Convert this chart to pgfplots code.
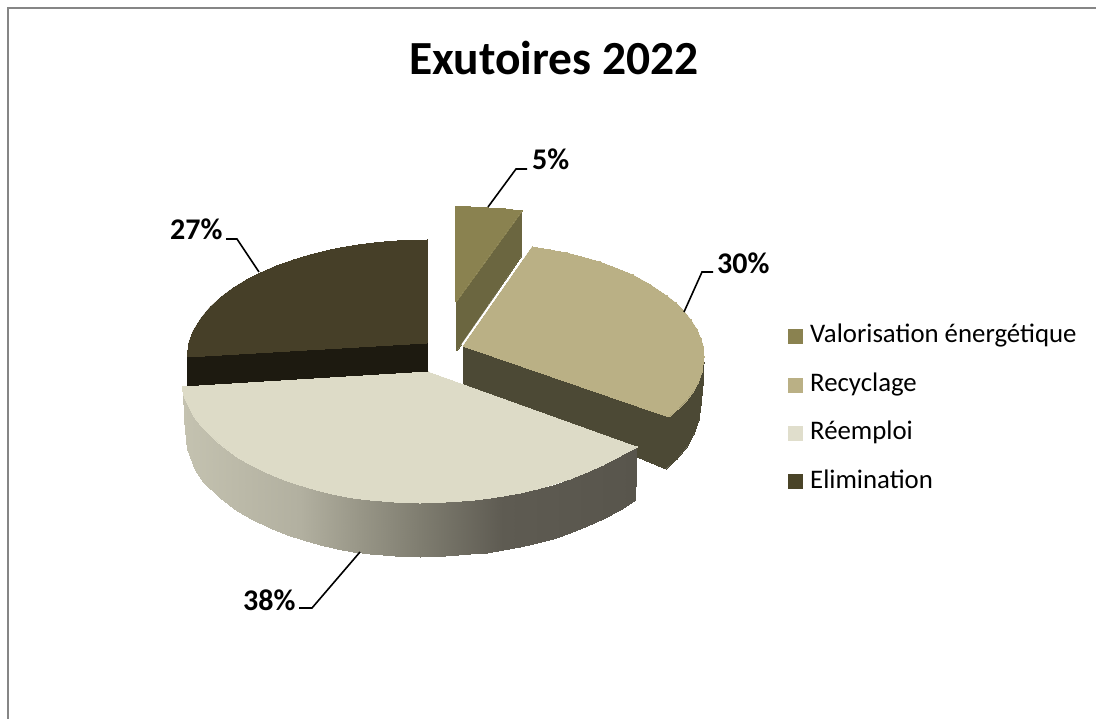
\documentclass[border=0pt]{standalone}
\usepackage{pgfplots}
\pgfplotsset{compat=1.18}
\usepackage{fontspec}
\setmainfont{Carlito}
\definecolor{frameg}{RGB}{134,134,134}
\definecolor{vtop}{RGB}{138,130,80}
\definecolor{vside}{RGB}{107,102,64}
\definecolor{rtop}{RGB}{186,176,133}
\definecolor{rside}{RGB}{76,73,53}
\definecolor{ptop}{RGB}{221,219,199}
\definecolor{etop}{RGB}{70,63,40}
\definecolor{eside}{RGB}{29,26,16}
\definecolor{lp}{RGB}{224,222,204}
\definecolor{le}{RGB}{74,68,40}
\begin{document}
\begin{tikzpicture}
\begin{axis}[
  width=1096pt, height=719pt, scale only axis,
  xmin=0, xmax=1096, ymin=0, ymax=719, y dir=reverse,
  axis lines=none, clip=true,
  colormap={side}{rgb255(0pt)=(196,194,176); rgb255(117pt)=(178,176,160); rgb255(177pt)=(152,150,135); rgb255(237pt)=(127,125,112); rgb255(320pt)=(94,91,82); rgb255(453pt)=(88,85,76)},
  point meta min=183, point meta max=636,
  every axis plot/.append style={line width=0pt},
]
% canvas and frame
\addplot[draw=none, fill=white] coordinates {(0,0)(1096,0)(1096,719)(0,719)} -- cycle;
\addplot[draw=frameg, line width=2pt] coordinates {(7.8,719)(7.8,7.8)(1096,7.8)};

% Valorisation energetique 5 %
\addplot[fill=vside, draw=vside] coordinates {(522,211)(521,257)(457,351)(456,302)} -- cycle;
\addplot[fill=vtop, draw=vtop] coordinates {(455,207)(470,207)(488,208)(505,209)(522,211)(456,302)} -- cycle;

% Elimination 27 %
\addplot[fill=eside, draw=eside] coordinates {(427,343)(427,372)(188,386)(187,357)} -- cycle;
\addplot[fill=etop, draw=etop] coordinates {(427,240)(410,240.3)(393,241.2)(376,242.7)(360,244.6)(343,247.4)(327,250.6)(310,254.8)(293,260)(276,266)(260,273)(246,280)(233,288)(221,297)(210,307)(201,318)(193,331)(189,342)(187,357)(427,343)} -- cycle;

% Recyclage 30 %
\addplot[fill=rside, draw=rside] coordinates {(463,346)(463,384)(666,469)(677,459)(687,447)(694,434)(699,420)(701,405)(703,385)(704,363)(669,417)} -- cycle;
\addplot[fill=rtop, draw=rtop] coordinates {(532,247)(550,250)(567,253)(584,257.5)(600,262)(617,268.5)(633,275)(650,284.5)(667,296)(676,303)(684,311)(691,320)(697,329.5)(701,339)(703.5,347)(704,357)(702,372)(698,383)(693,392)(687,400)(678,409)(669,417)(463,346)} -- cycle;
\addplot[draw=white, line width=1.6pt] coordinates {(531,246)(462,345)};

% Reemploi 38 %: side wall
\addplot[patch, patch type=rectangle, shader=interp, point meta=explicit, draw=none] table[x=x, y=y, meta=x] {
x y
182.5 389
184 420
187 449
187 403
187 403
187 449
195 470
195 418
195 418
195 470
203 482
203 428
203 428
203 482
220 498
220 444
220 444
220 498
237 511
237 457
237 457
237 511
253 520
253 466
253 466
253 520
270 528
270 474
270 474
270 528
287 535
287 481
287 481
287 535
303 540
303 486
303 486
303 540
320 545
320 491
320 491
320 545
337 549
337 495
337 495
337 549
353 552
353 498
353 498
353 552
370 554
370 500
370 500
370 554
395 556
395 502
395 502
395 556
420 557
420 503
420 503
420 557
445 556
445 502
445 502
445 556
470 554.5
470 500.5
470 500.5
470 554.5
487 552.6
487 498.5
487 498.5
487 552.6
503 550
503 496
503 496
503 550
520 547
520 493
520 493
520 547
537 543
537 489
537 489
537 543
553 538.5
553 484.5
553 484.5
553 538.5
570 533
570 479
570 479
570 533
587 526
587 472
587 472
587 526
603 519
603 465
603 465
603 519
620 510
620 456
620 456
620 510
635 500
636.5 447
};
\addplot[fill=ptop, draw=ptop] coordinates {(428,372)(637,447)(620,456)(603,465)(587,472)(570,479)(553,484.5)(537,489)(520,493)(503,496)(487,498.5)(470,500.5)(445,502)(420,503)(395,502)(370,500)(353,498)(337,495)(320,491)(303,486)(287,481)(270,474)(253,466)(237,457)(220,444)(203,428)(195,418)(187,403)(184,396)(182,387)} -- cycle;

% leader lines
\addplot[black, line width=1.6pt] coordinates {(488,207)(516,169)(527,169)};
\addplot[black, line width=1.6pt] coordinates {(684,312)(702,272)(713,272)};
\addplot[black, line width=1.6pt] coordinates {(259,272)(237,239)(226,239)};
\addplot[black, line width=1.6pt] coordinates {(360,552)(312,608)(299,608)};

% legend keys
\addplot[fill=vtop, draw=none] coordinates {(788,329)(803,329)(803,344)(788,344)} -- cycle;
\addplot[fill=rtop, draw=none] coordinates {(788,378)(803,378)(803,393)(788,393)} -- cycle;
\addplot[fill=lp, draw=none] coordinates {(788,426)(803,426)(803,441)(788,441)} -- cycle;
\addplot[fill=le, draw=none] coordinates {(788,474)(803,474)(803,489)(788,489)} -- cycle;

% texts
\node[anchor=base west, inner sep=0pt, font=\fontsize{47.5}{47.5}\selectfont\bfseries] at (axis cs:409,75) {Exutoires 2022};
\node[anchor=base west, inner sep=0pt, font=\fontsize{30}{30}\selectfont\bfseries] at (axis cs:532,170) {5\%};
\node[anchor=base west, inner sep=0pt, font=\fontsize{30}{30}\selectfont\bfseries] at (axis cs:717,274) {30\%};
\node[anchor=base west, inner sep=0pt, font=\fontsize{30}{30}\selectfont\bfseries] at (axis cs:170,240) {27\%};
\node[anchor=base west, inner sep=0pt, font=\fontsize{30}{30}\selectfont\bfseries] at (axis cs:243,610) {38\%};
\node[anchor=base west, inner sep=0pt, font=\fontsize{26.8}{26.8}\selectfont] at (axis cs:810,343) {Valorisation énergétique};
\node[anchor=base west, inner sep=0pt, font=\fontsize{26.8}{26.8}\selectfont] at (axis cs:810,392) {Recyclage};
\node[anchor=base west, inner sep=0pt, font=\fontsize{26.8}{26.8}\selectfont] at (axis cs:810,440) {Réemploi};
\node[anchor=base west, inner sep=0pt, font=\fontsize{26.8}{26.8}\selectfont] at (axis cs:810,488) {Elimination};
\end{axis}
\end{tikzpicture}
\end{document}
